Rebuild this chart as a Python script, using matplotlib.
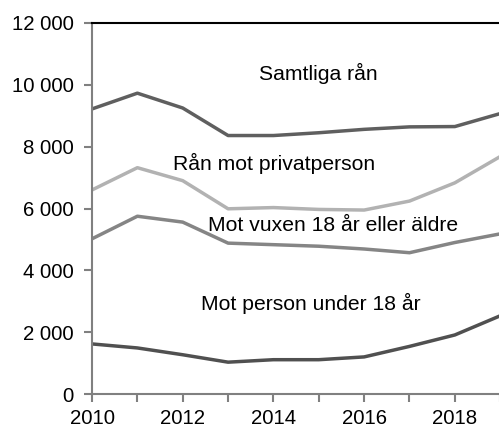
import matplotlib
matplotlib.use("Agg")
import matplotlib.pyplot as plt
from matplotlib.ticker import FuncFormatter, MultipleLocator

plt.rcParams["font.family"] = ["Liberation Sans", "DejaVu Sans"]

# ===================== DATA =====================
years = [2010, 2011, 2012, 2013, 2014, 2015, 2016, 2017, 2018, 2019]
samtliga = [9220, 9730, 9250, 8360, 8360, 8450, 8560, 8640, 8650, 9070]
privatperson = [6600, 7320, 6900, 5990, 6030, 5970, 5950, 6240, 6830, 7680]
vuxen = [5020, 5750, 5560, 4880, 4830, 4780, 4690, 4570, 4900, 5180]
under18 = [1620, 1490, 1270, 1030, 1110, 1110, 1200, 1540, 1910, 2530]

series = [
    (samtliga, "#5f5f5f", "Samtliga rån", 2015.0, 10360),
    (privatperson, "#b2b2b2", "Rån mot privatperson", 2014.02, 7470),
    (vuxen, "#858585", "Mot vuxen 18 år eller äldre", 2015.32, 5440),
    (under18, "#505050", "Mot person under 18 år", 2014.83, 2940),
]

# ===================== PLOT =====================
fig = plt.figure(figsize=(4.99, 4.28), dpi=100)
ax = fig.add_axes([0.1844, 0.0794, 0.818, 0.8669])

for values, color, label, tx, ty in series:
    ax.plot(years, values, color=color, linewidth=2.5, solid_capstyle="butt")
    ax.text(tx, ty, label, ha="center", va="center", fontsize=15.2, color="black")

ax.set_xlim(2010, 2019)
ax.set_ylim(0, 12000)

ax.xaxis.set_major_locator(MultipleLocator(2))
ax.xaxis.set_minor_locator(MultipleLocator(1))
ax.yaxis.set_major_locator(MultipleLocator(2000))
ax.yaxis.set_major_formatter(FuncFormatter(lambda v, p: f"{int(v):,}".replace(",", " ")))

gray = "#808080"
for side in ["left", "bottom"]:
    ax.spines[side].set_color(gray)
    ax.spines[side].set_linewidth(1.5)
ax.spines["top"].set_color("black")
ax.spines["top"].set_linewidth(1.5)
ax.spines["right"].set_visible(False)

ax.tick_params(axis="both", which="both", direction="out", color=gray, width=1.5,
               labelsize=14.7, labelcolor="black")
ax.tick_params(axis="y", length=6, pad=7)
ax.tick_params(axis="x", which="both", length=6, pad=4.5)

fig.savefig("out.png", dpi=100)
